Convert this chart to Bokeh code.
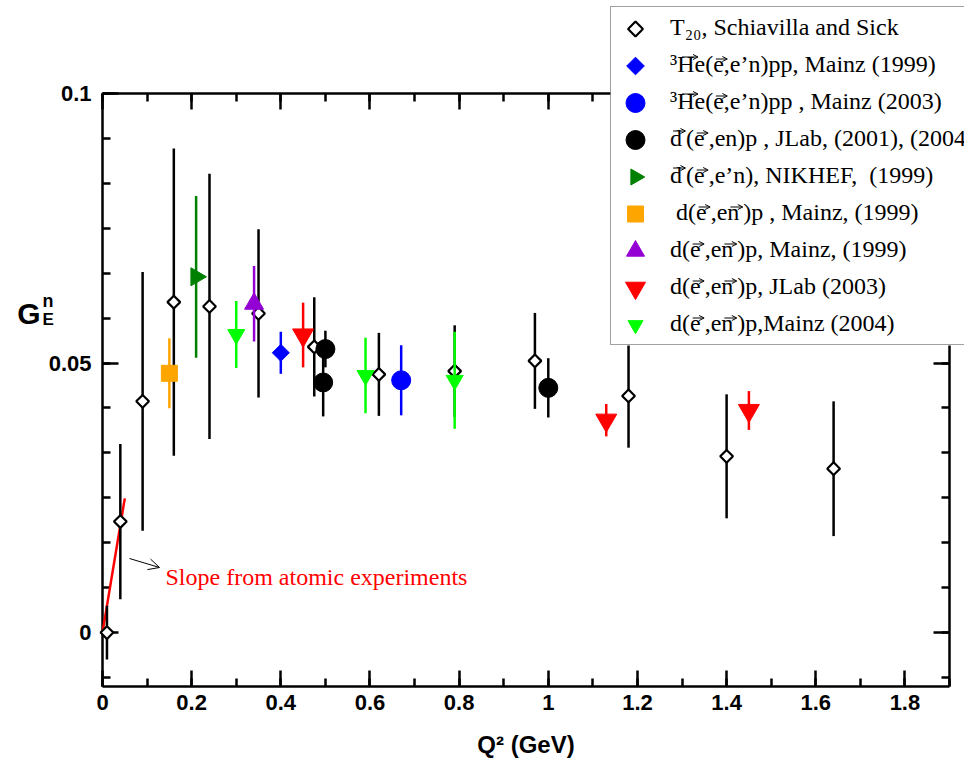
import math
import numpy as np
from bokeh.plotting import figure
from bokeh.models import (Range1d, LinearAxis, FixedTicker, CustomJSTickFormatter,
                          Legend, LegendItem, Label, Arrow, OpenHead, ColumnDataSource)
from bokeh.embed import file_html
from bokeh.resources import INLINE

# --- neutron electric form factor G_E^n versus Q^2 ---

# T20 analysis, Schiavilla and Sick
t20_q2 = [0.01, 0.04, 0.09, 0.16, 0.24, 0.35, 0.475, 0.62, 0.79, 0.97, 1.18, 1.40, 1.64]
t20_ge = [0.0, 0.0206, 0.0429, 0.0613, 0.0605, 0.0592, 0.0530, 0.0479, 0.0485, 0.0504, 0.0439, 0.0327, 0.0304]
t20_err = [0.005, 0.0144, 0.024, 0.0285, 0.0246, 0.0156, 0.0092, 0.0077, 0.0085, 0.0089, 0.0096, 0.0115, 0.0125]

# 3He(e,e'n)pp, Mainz (1999)
he99_q2 = [0.40]
he99_ge = [0.0519]
he99_err = [0.0039]

# 3He(e,e'n)pp, Mainz (2003)
he03_q2 = [0.67]
he03_ge = [0.0468]
he03_err = [0.0065]

# d(e,en)p, JLab (2001), (2004)
jlab_q2 = [0.50, 0.495, 1.00]
jlab_ge = [0.0526, 0.0464, 0.0454]
jlab_err = [0.0034, 0.0063, 0.0055]

# d(e,e'n), NIKHEF (1999)
nik_q2 = [0.21]
nik_ge = [0.066]
nik_err = [0.015]

# d(e,en)p, Mainz (1999), first set
mz99a_q2 = [0.15]
mz99a_ge = [0.0481]
mz99a_err = [0.0065]

# d(e,en)p, Mainz (1999), second set
mz99b_q2 = [0.34]
mz99b_ge = [0.061]
mz99b_err = [0.007]

# d(e,en)p, JLab (2003)
jl03_q2 = [0.45, 1.13, 1.45]
jl03_ge = [0.0552, 0.0394, 0.0412]
jl03_err = [0.006, 0.003, 0.0036]

# d(e,en)p, Mainz (2004)
mz04_q2 = [0.30, 0.59, 0.79]
mz04_ge = [0.0553, 0.0477, 0.0468]
mz04_err = [0.0062, 0.007, 0.009]

# slope at Q^2 = 0 from atomic (neutron-electron scattering) experiments
slope_q2 = [0.0, 0.05]
slope_ge = [0.0, 0.0249]

x_major = [0, 0.2, 0.4, 0.6, 0.8, 1, 1.2, 1.4, 1.6, 1.8]
y_major = [0, 0.05, 0.1]

# legend entries: text and the positions of characters carrying a vector arrow
SP = "\u2006"   # small gap left after an arrowed letter
legend_rows = [
    ("T₂₀, Schiavilla and Sick", []),
    ("³He(e,e’n)pp, Mainz (1999)", [1, 4]),
    ("³He(e,e’n)pp , Mainz (2003)", [1, 4]),
    (f"d{SP}(e{SP},en)p , JLab, (2001), (2004)", [0, 3]),
    (f"d{SP}(e{SP},e’n), NIKHEF,  (1999)", [0, 3]),
    (f" d(e{SP},en{SP})p , Mainz, (1999)", [3, 7]),
    (f"d(e{SP},en{SP})p, Mainz, (1999)", [2, 6]),
    (f"d(e{SP},en{SP})p, JLab (2003)", [2, 6]),
    (f"d(e{SP},en{SP})p,Mainz (2004)", [2, 6]),
]

# legend key symbols (one per entry, same order as legend_rows)
key_marker = ["square", "square", "circle", "circle", "triangle", "square",
              "triangle", "inverted_triangle", "inverted_triangle"]
key_size = [10.5, 12.5, 19, 19, 16, 16, 18, 20, 15]
key_angle = [math.pi / 4, math.pi / 4, 0, 0, -math.pi / 2, 0, 0, 0, 0]
key_fill = ["white", "#0000ff", "#0000ff", "black", "#008000", "#ffa500",
            "#9400d3", "#ff0000", "#00ff00"]
key_line = ["black", "#0000ff", "#0000ff", "black", "#008000", "#ffa500",
            "#9400d3", "#ff0000", "#00ff00"]
key_lw = [2.2, 1, 1, 1, 1, 1, 1, 1, 1]

# ---------------------------------------------------------------------------
# canvas geometry: the frame fills the whole canvas, the axes sit at fixed
# locations so that the legend and the y title are free to sit in the margins
W, H = 964, 760
AX_L, AX_R, AX_T, AX_B = 102, 949, 93, 686      # box of the axes, in pixels
X_LO, X_HI, Y_LO, Y_HI = 0.0, 1.9, -0.01, 0.1
PPX = (AX_R - AX_L) / (X_HI - X_LO)
PPY = (AX_B - AX_T) / (Y_HI - Y_LO)


def sx(px):
    return X_LO + (px - AX_L) / PPX


def sy(py):
    return Y_HI - (py - AX_T) / PPY


p = figure(width=W, height=H, output_backend="svg", toolbar_location=None,
           x_range=Range1d(sx(0), sx(W)), y_range=Range1d(sy(H), sy(0)),
           x_axis_type=None, y_axis_type=None,
           min_border_left=0, min_border_right=0, min_border_top=0, min_border_bottom=0)
p.outline_line_color = None
p.background_fill_color = "white"
p.border_fill_color = "white"

x_ticker = FixedTicker(ticks=x_major, minor_ticks=[round(v, 2) for v in np.arange(0, 1.95, 0.1)])
y_ticker = FixedTicker(ticks=y_major, minor_ticks=[round(v * 0.05 / 6, 5) for v in range(-1, 13)])
fmt = CustomJSTickFormatter(code="return String(tick)")
blank = CustomJSTickFormatter(code="return ''")


def make_axis(ticker, formatter, loc, bounds, show_labels):
    # axes are painted below the glyphs so the legend panel can cover them
    ax = LinearAxis(ticker=ticker, formatter=formatter, fixed_location=loc,
                    bounds=bounds, level="underlay")
    ax.axis_line_width = 2.5
    ax.axis_line_color = "black"
    ax.major_tick_line_width = 2.5
    ax.minor_tick_line_width = 2.5
    ax.major_tick_in = 16
    ax.major_tick_out = 0
    ax.minor_tick_in = 8
    ax.minor_tick_out = 0
    if show_labels:
        ax.major_label_text_font = "Liberation Sans"
        ax.major_label_text_font_style = "bold"
        ax.major_label_text_font_size = "22px"
        ax.major_label_text_color = "black"
    else:
        ax.major_label_text_font_size = "0px"
        ax.major_label_standoff = 0
    return ax


bottom = make_axis(x_ticker, fmt, Y_LO, (X_LO, X_HI), True)
bottom.major_label_standoff = 8
bottom.axis_label = "Q² (GeV)"
bottom.axis_label_text_font = "Liberation Sans"
bottom.axis_label_text_font_style = "bold"
bottom.axis_label_text_font_size = "24px"
bottom.axis_label_text_color = "black"
bottom.axis_label_standoff = 18
p.add_layout(bottom, "below")

left = make_axis(y_ticker, fmt, X_LO, (Y_LO, Y_HI), True)
left.major_label_standoff = 11
p.add_layout(left, "left")

p.add_layout(make_axis(x_ticker, blank, Y_HI, (X_LO, X_HI), False), "above")
p.add_layout(make_axis(y_ticker, blank, X_HI, (Y_LO, Y_HI), False), "right")


def series(q2, ge, err, color, marker, size, fill=None, line_width=1.0, angle=0.0):
    src = ColumnDataSource(dict(
        q2=q2, ge=ge,
        lo=[g - e for g, e in zip(ge, err)],
        hi=[g + e for g, e in zip(ge, err)],
    ))
    p.segment(x0="q2", y0="lo", x1="q2", y1="hi", source=src,
              line_color=color, line_width=2.5)
    return p.scatter(x="q2", y="ge", source=src, marker=marker, size=size,
                     fill_color=fill if fill is not None else color,
                     line_color=color, line_width=line_width, angle=angle)


# slope line drawn first, under the points
p.line(slope_q2, slope_ge, line_color="red", line_width=2.5)

series(t20_q2, t20_ge, t20_err, "black", "square", 9, fill="white",
       line_width=2.2, angle=math.pi / 4)
series(mz99a_q2, mz99a_ge, mz99a_err, "#ffa500", "square", 16)
series(nik_q2, nik_ge, nik_err, "#008000", "triangle", 18, angle=-math.pi / 2)
series(mz04_q2, mz04_ge, mz04_err, "#00ff00", "inverted_triangle", 17)
series(mz99b_q2, mz99b_ge, mz99b_err, "#9400d3", "triangle", 19)
series(he99_q2, he99_ge, he99_err, "#0000ff", "square", 12, angle=math.pi / 4)
series(jl03_q2, jl03_ge, jl03_err, "#ff0000", "inverted_triangle", 21)
series(jlab_q2, jlab_ge, jlab_err, "black", "circle", 19)
series(he03_q2, he03_ge, he03_err, "#0000ff", "circle", 19)

# annotation for the low-Q^2 slope
p.add_layout(Arrow(end=OpenHead(size=11, line_width=1, line_color="black"),
                   x_start=sx(129), y_start=sy(558), x_end=sx(159), y_end=sy(567),
                   line_width=1, line_color="black"))
p.add_layout(Label(x=sx(165), y=sy(576), text="Slope from atomic experiments",
                   text_color="red", text_font="Liberation Serif",
                   text_font_size="24px", text_baseline="alphabetic"))

# y-axis title G_E^n built from three pieces
title_kw = dict(text_baseline="alphabetic", text_font="Liberation Sans",
                text_font_style="bold", text_color="black")
p.add_layout(Label(x=sx(40), y=sy(313), text="G", text_align="right",
                   text_font_size="30px", **title_kw))
p.add_layout(Label(x=sx(42), y=sy(300), text="n", text_align="left",
                   text_font_size="18px", **title_kw))
p.add_layout(Label(x=sx(42), y=sy(319), text="E", text_align="left",
                   text_font_size="17px", **title_kw))

# legend: white panel and key symbols as glyphs, texts and frame from Legend
LEG_LEFT, LEG_BOTTOM, ROW_H, PAD, GLYPH_W, STANDOFF = 610, 345, 37, 2, 40, 17
leg_top = LEG_BOTTOM - (len(legend_rows) * ROW_H + 2 * PAD)
row_cy = [leg_top + PAD + ROW_H / 2 + i * ROW_H for i in range(len(legend_rows))]

p.quad(left=[sx(LEG_LEFT)], right=[sx(W + 20)], top=[sy(leg_top)], bottom=[sy(LEG_BOTTOM)],
       fill_color="white", line_color=None)

keys = ColumnDataSource(dict(
    x=[sx(LEG_LEFT + 25)] * len(legend_rows), y=[sy(c) for c in row_cy],
    marker=key_marker, size=key_size, angle=key_angle,
    fill=key_fill, line=key_line, lw=key_lw,
))
p.scatter(x="x", y="y", source=keys, marker="marker", size="size", angle="angle",
          fill_color="fill", line_color="line", line_width="lw")

legend = Legend(items=[LegendItem(label=txt, renderers=[]) for txt, _ in legend_rows],
                location=(LEG_LEFT, H - LEG_BOTTOM))
legend.label_text_font = "Liberation Serif"
legend.label_text_font_size = "24px"
legend.label_text_color = "black"
legend.glyph_width = GLYPH_W
legend.glyph_height = ROW_H
legend.label_height = ROW_H
legend.label_standoff = STANDOFF
legend.spacing = 0
legend.padding = PAD
legend.margin = 0
legend.border_line_color = "#444444"
legend.border_line_width = 1.5
legend.background_fill_alpha = 0.0
p.add_layout(legend)

# vector arrows over the polarised particles in the legend texts
ADV = {" ": 250, "(": 333, ")": 333, ",": 250, "’": 333, "³": 300, "H": 722,
       "d": 500, "e": 444, "n": 500, "p": 500, SP: 167}
FONT_PX = 24
text_x0 = LEG_LEFT + PAD + GLYPH_W + STANDOFF
for (txt, marks), cy in zip(legend_rows, row_cy):
    for idx in marks:
        left_px = text_x0 + sum(ADV.get(c, 500) for c in txt[:idx]) * FONT_PX / 1000
        cw = ADV.get(txt[idx], 500) * FONT_PX / 1000
        ay = cy - (9 if txt[idx] in "Hd" else 7)
        p.add_layout(Arrow(end=OpenHead(size=5, line_width=1, line_color="black"),
                           x_start=sx(left_px + 0.3 * cw), y_start=sy(ay),
                           x_end=sx(left_px + cw + 4), y_end=sy(ay),
                           line_width=1, line_color="black"))

open("out.html", "w").write(file_html(p, INLINE))
